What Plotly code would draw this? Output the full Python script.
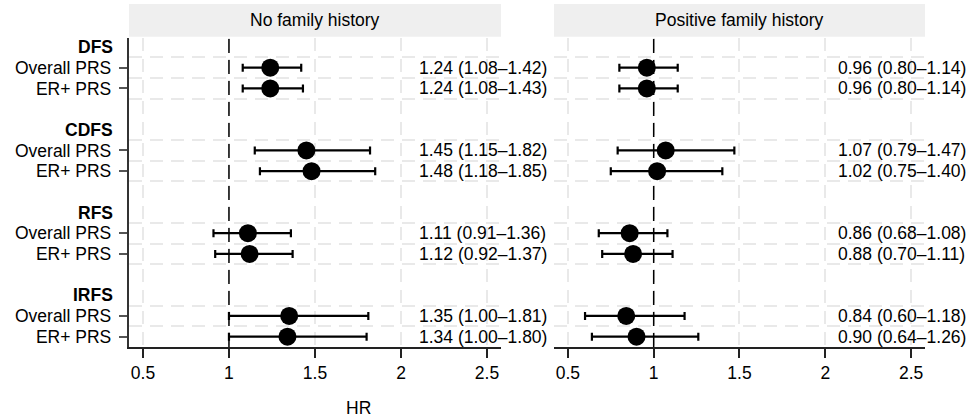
import plotly.graph_objects as go

# ---------------- data ----------------
groups = ["DFS", "CDFS", "RFS", "IRFS"]
prs_types = ["Overall PRS", "ER+ PRS"]
panel_titles = ["No family history", "Positive family history"]

nofh_hr = [1.24, 1.24, 1.45, 1.48, 1.11, 1.12, 1.35, 1.34]
nofh_lo = [1.08, 1.08, 1.15, 1.18, 0.91, 0.92, 1.00, 1.00]
nofh_hi = [1.42, 1.43, 1.82, 1.85, 1.36, 1.37, 1.81, 1.80]

posfh_hr = [0.96, 0.96, 1.07, 1.02, 0.86, 0.88, 0.84, 0.90]
posfh_lo = [0.80, 0.80, 0.79, 0.75, 0.68, 0.70, 0.60, 0.64]
posfh_hi = [1.14, 1.14, 1.47, 1.40, 1.08, 1.11, 1.18, 1.26]

x_ticks = [0.5, 1, 1.5, 2, 2.5]
x_ticklabels = ["0.5", "1", "1.5", "2", "2.5"]

# ---------------- layout helpers ----------------
FONT = "Liberation Sans, Arial, Helvetica, sans-serif"
FS = 17.5
ROWS_PER_GROUP = 4

header_rows = [ROWS_PER_GROUP * g for g in range(len(groups))]
item_rows = []
item_labels = []
for g in range(len(groups)):
    for k, p in enumerate(prs_types):
        item_rows.append(ROWS_PER_GROUP * g + 1 + k)
        item_labels.append(p)
grid_rows = []
for g in range(len(groups)):
    for k in range(3):
        grid_rows.append(ROWS_PER_GROUP * g + k + 0.5)

last_row = max(item_rows)

fig = go.Figure()

panels = [
    (nofh_hr, nofh_lo, nofh_hi, "x", "y", 2.093),
    (posfh_hr, posfh_lo, posfh_hi, "x2", "y2", 2.064),
]

for hr, lo, hi, xa, ya, tx in panels:
    fig.add_trace(go.Scatter(
        x=hr, y=item_rows, xaxis=xa, yaxis=ya, mode="markers",
        marker=dict(symbol="circle", size=18, color="black"),
        error_x=dict(type="data", symmetric=False,
                     array=[h - m for h, m in zip(hi, hr)],
                     arrayminus=[m - l for m, l in zip(hr, lo)],
                     color="black", thickness=2.2, width=4),
        showlegend=False, cliponaxis=False, hoverinfo="skip",
    ))
    for r, m, l, h in zip(item_rows, hr, lo, hi):
        fig.add_annotation(
            x=tx, y=r, xref=xa, yref=ya, xanchor="left", yanchor="middle",
            text=f"{m:.2f} ({l:.2f}\u2013{h:.2f})", showarrow=False,
            font=dict(family=FONT, size=FS, color="black"))
    # reference line at HR = 1
    fig.add_shape(type="line", xref=xa, yref=f"{ya} domain", x0=1, x1=1, y0=0, y1=1,
                  line=dict(color="black", width=1.5, dash="14px,7px"), layer="above")

x_common = dict(range=[0.419, 2.581], tickmode="array", tickvals=x_ticks, ticktext=x_ticklabels,
                showgrid=True, gridcolor="#e9e9e9", gridwidth=2, griddash="13px,8px",
                showline=True, linecolor="#222", linewidth=1.5,
                ticks="outside", ticklen=9, tickwidth=1.5, tickcolor="#222",
                ticklabelstandoff=0,
                tickfont=dict(family=FONT, size=FS, color="black"), zeroline=False)

y_common = dict(range=[last_row + 0.5, -0.435], zeroline=False, showgrid=False,
                minor=dict(tickmode="array", tickvals=grid_rows, showgrid=True,
                           gridcolor="#e9e9e9", gridwidth=2, griddash="13px,8px", ticks=""))

fig.update_layout(
    width=979, height=419,
    margin=dict(l=129, r=54, t=38, b=72),
    paper_bgcolor="white", plot_bgcolor="white",
    font=dict(family=FONT, size=FS, color="black"),
    xaxis=dict(domain=[0, 0.4673], anchor="y", **x_common),
    xaxis2=dict(domain=[0.5339, 1], anchor="y2", **x_common),
    yaxis=dict(domain=[0, 1], anchor="x", tickmode="array", tickvals=item_rows,
               ticktext=item_labels, showline=True, linecolor="#333", linewidth=1.5,
               ticks="outside", ticklen=8.5, tickwidth=1.5, tickcolor="#555",
               ticklabelstandoff=4,
               tickfont=dict(family=FONT, size=FS, color="black"), **y_common),
    yaxis2=dict(domain=[0, 1], anchor="x2", showticklabels=False, showline=False,
                ticks="", **y_common),
)

# group headers
for g, r in zip(groups, header_rows):
    fig.add_annotation(x=0, y=r, xref="paper", yref="y", xanchor="right", yanchor="middle",
                       xshift=-14, text=f"<b>{g}</b>", showarrow=False,
                       font=dict(family=FONT, size=FS, color="black"))

# panel strips
for title, xa, ya in [(panel_titles[0], "x", "y"), (panel_titles[1], "x2", "y2")]:
    fig.add_shape(type="rect", xref=f"{xa} domain", yref=f"{ya} domain",
                  x0=0, x1=1, y0=1.004, y1=1.11, fillcolor="#efefef",
                  line=dict(width=0), layer="below")
    fig.add_annotation(x=0.5, y=1.057, xref=f"{xa} domain", yref=f"{ya} domain",
                       xanchor="center", yanchor="middle", text=title, showarrow=False,
                       font=dict(family=FONT, size=FS, color="black"))

# axis title
fig.add_annotation(x=0.2886, y=-0.197, xref="paper", yref="paper", xanchor="center",
                   yanchor="middle", text="HR", showarrow=False,
                   font=dict(family=FONT, size=FS, color="black"))

fig.write_html("out.html", config={"displayModeBar": False},
               post_script="document.body.style.margin='0px';document.body.style.overflow='hidden';")
